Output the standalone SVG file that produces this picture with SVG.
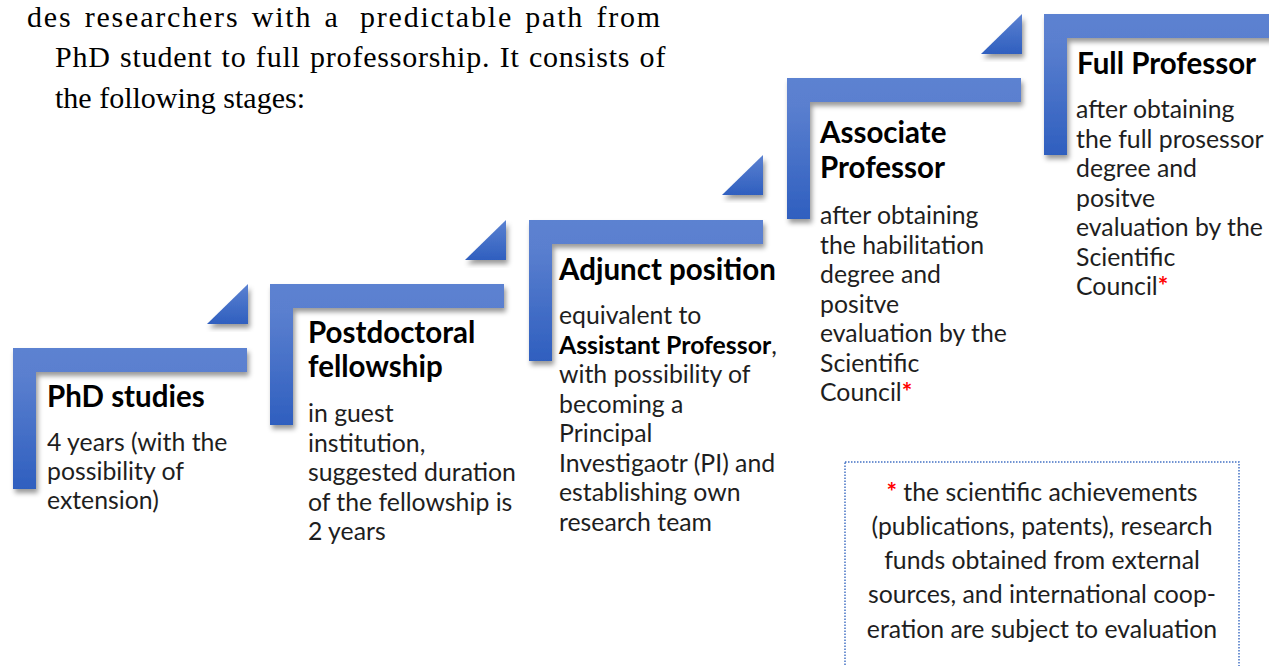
<svg xmlns="http://www.w3.org/2000/svg" width="1269" height="666" viewBox="0 0 1269 666">
<defs>
  <linearGradient id="gL" x1="0" y1="0" x2="0" y2="1">
    <stop offset="0" stop-color="#5c82d1"/>
    <stop offset="0.2" stop-color="#5a7fcf"/>
    <stop offset="1" stop-color="#2f5fbf"/>
  </linearGradient>
  <linearGradient id="gT" x1="0" y1="0" x2="0" y2="1">
    <stop offset="0" stop-color="#5b81d1"/>
    <stop offset="1" stop-color="#2f5fbf"/>
  </linearGradient>
  <filter id="sh" x="-10%" y="-10%" width="130%" height="130%">
    <feDropShadow dx="2" dy="4" stdDeviation="2.5" flood-color="#000" flood-opacity="0.4"/>
  </filter>
  <path id="ell" d="M0,0 H234 V24 H23 V141 H0 Z"/>
  <path id="tri" d="M0,40 L41,0 L41,40 Z"/>
</defs>
<style>
  .L { fill: url(#gL); filter: url(#sh); }
  .T { fill: url(#gT); filter: url(#sh); }
  .ttl { font-family: Lato, "Liberation Sans", sans-serif; font-weight: bold; font-size: 29.5px; fill: #000; }
  .bd { font-family: Lato, "Liberation Sans", sans-serif; font-size: 24.8px; fill: #1e1e1e; }
  .b { font-weight: bold; fill: #000; }
  .ast { fill: #ff0000; font-weight: bold; }
  .para { font-family: "Liberation Serif", serif; font-size: 30px; fill: #000; }
  .note { font-family: Lato, "Liberation Sans", sans-serif; font-size: 24.8px; fill: #1e1e1e; text-anchor: middle; }
</style>

<g id="intro">
  <text class="para" x="27" y="27" letter-spacing="1.8" word-spacing="3">des researchers with a <tspan dx="8">predictable path from</tspan></text>
  <text class="para" x="55" y="67" letter-spacing="0.8" word-spacing="1">PhD student to full professorship. It consists of</text>
  <text class="para" x="55" y="108">the following stages:</text>
</g>

<g id="connectors">
  <use href="#tri" class="T" x="207" y="284"/>
  <use href="#tri" class="T" x="465" y="220"/>
  <use href="#tri" class="T" x="722" y="155"/>
  <use href="#tri" class="T" x="981" y="14"/>
</g>

<g id="stage-phd">
  <use href="#ell" class="L" x="13" y="348"/>
  <text class="ttl" x="47" y="407">PhD studies</text>
  <text class="bd" x="47" y="451">4 years (with the</text>
  <text class="bd" x="47" y="480">possibility of</text>
  <text class="bd" x="47" y="509">extension)</text>
</g>

<g id="stage-postdoc">
  <use href="#ell" class="L" x="270" y="284"/>
  <text class="ttl" x="308" y="343">Postdoctoral</text>
  <text class="ttl" x="308" y="377">fellowship</text>
  <text class="bd" x="308" y="422">in guest</text>
  <text class="bd" x="308" y="451.5">institution,</text>
  <text class="bd" x="308" y="481">suggested duration</text>
  <text class="bd" x="308" y="510.5">of the fellowship is</text>
  <text class="bd" x="308" y="540">2 years</text>
</g>

<g id="stage-adjunct">
  <use href="#ell" class="L" x="529" y="220"/>
  <text class="ttl" x="559" y="280">Adjunct position</text>
  <text class="bd" x="559" y="324">equivalent to</text>
  <text class="bd" x="559" y="353.5"><tspan class="b">Assistant Professor</tspan>,</text>
  <text class="bd" x="559" y="383">with possibility of</text>
  <text class="bd" x="559" y="412.5">becoming a</text>
  <text class="bd" x="559" y="442">Principal</text>
  <text class="bd" x="559" y="471.5">Investigaotr (PI) and</text>
  <text class="bd" x="559" y="501">establishing own</text>
  <text class="bd" x="559" y="530.5">research team</text>
</g>

<g id="stage-associate">
  <use href="#ell" class="L" x="787" y="78"/>
  <text class="ttl" x="820" y="143">Associate</text>
  <text class="ttl" x="820" y="177.5">Professor</text>
  <text class="bd" x="820" y="224">after obtaining</text>
  <text class="bd" x="820" y="253.5">the habilitation</text>
  <text class="bd" x="820" y="283">degree and</text>
  <text class="bd" x="820" y="312.5">positve</text>
  <text class="bd" x="820" y="342">evaluation by the</text>
  <text class="bd" x="820" y="371.5">Scientific</text>
  <text class="bd" x="820" y="401">Council<tspan class="ast">*</tspan></text>
</g>

<g id="stage-full">
  <use href="#ell" class="L" x="1044" y="14"/>
  <text class="ttl" x="1077" y="74">Full Professor</text>
  <text class="bd" x="1076" y="118">after obtaining</text>
  <text class="bd" x="1076" y="147.5">the full prosessor</text>
  <text class="bd" x="1076" y="177">degree and</text>
  <text class="bd" x="1076" y="206.5">positve</text>
  <text class="bd" x="1076" y="236">evaluation by the</text>
  <text class="bd" x="1076" y="265.5">Scientific</text>
  <text class="bd" x="1076" y="295">Council<tspan class="ast">*</tspan></text>
</g>

<g id="footnote">
  <rect x="845" y="462" width="394" height="240" fill="none" stroke="#4472c4" stroke-width="1.5" stroke-dasharray="1.5 1.5"/>
  <text class="note" x="1042" y="501"><tspan class="ast">*</tspan> the scientific achievements</text>
  <text class="note" x="1042" y="535">(publications, patents), research</text>
  <text class="note" x="1042" y="569">funds obtained from external</text>
  <text class="note" x="1042" y="603">sources, and international coop-</text>
  <text class="note" x="1042" y="638">eration are subject to evaluation</text>
</g>
</svg>
